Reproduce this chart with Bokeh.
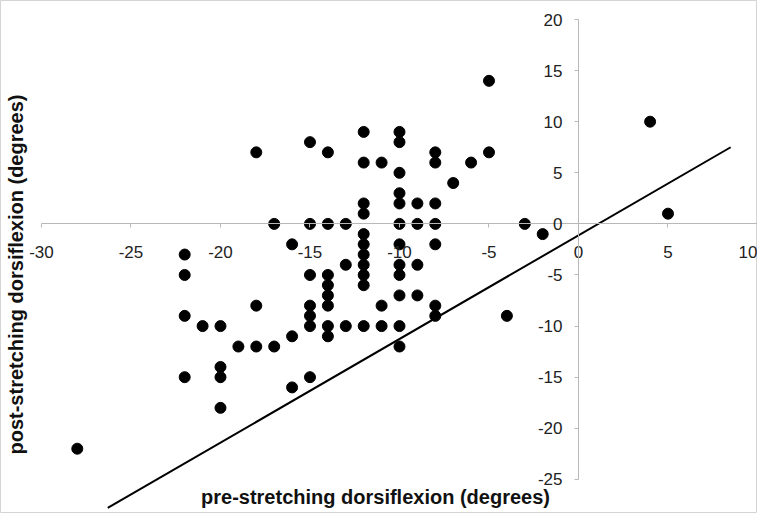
import math
from bokeh.plotting import figure
from bokeh.models import Range1d, LinearAxis, FixedTicker, Label, ColumnDataSource
from bokeh.embed import file_html
from bokeh.resources import INLINE

# pre-stretching dorsiflexion (degrees)
pre = [-28,
       -22, -22, -22, -22,
       -21,
       -20, -20, -20, -20,
       -19,
       -18, -18, -18,
       -17, -17,
       -16, -16, -16,
       -15, -15, -15, -15, -15, -15, -15,
       -14, -14, -14, -14, -14, -14, -14, -14,
       -13, -13, -13,
       -12, -12, -12, -12, -12, -12, -12, -12, -12, -12, -12,
       -11, -11, -11,
       -10, -10, -10, -10, -10, -10, -10, -10, -10, -10, -10, -10,
       -9, -9, -9, -9,
       -8, -8, -8, -8, -8, -8, -8,
       -7, -6, -5, -5, -4, -3, -2, 4, 5]
# post-stretching dorsiflexion (degrees)
post = [-22,
        -3, -5, -9, -15,
        -10,
        -10, -14, -15, -18,
        -12,
        7, -8, -12,
        0, -12,
        -2, -11, -16,
        8, 0, -5, -8, -9, -10, -15,
        7, 0, -5, -6, -7, -8, -10, -11,
        0, -4, -10,
        9, 6, 2, 1, -1, -2, -3, -4, -5, -6, -10,
        6, -8, -10,
        9, 8, 5, 3, 2, 0, -2, -4, -5, -7, -10, -12,
        2, 0, -4, -7,
        7, 6, 2, 0, -2, -8, -9,
        4, 6, 14, 7, -9, 0, -1, 10, 1]

# reference line (drawn in the original chart)
line_x = [-26.3, 8.5]
line_y = [-27.8, 7.5]

x_ticks = [-30, -25, -20, -15, -10, -5, 0, 5, 10]
y_ticks = [-25, -20, -15, -10, -5, 0, 5, 10, 15, 20]
x_tick_labels = ["-30", "-25", "-20", "-15", "-10", "-5", "0", "5", "10"]
y_tick_labels = ["-25", "-20", "-15", "-10", "-5", "0", "5", "10", "15", "20"]

W, H = 757, 513
p = figure(width=W, height=H, output_backend="svg", toolbar_location=None,
           x_range=Range1d(-32.29, 10.0), y_range=Range1d(-28.34, 21.86),
           x_axis_location=None, y_axis_location=None, min_border=0)
p.outline_line_color = "#d4d4d4"
p.background_fill_color = "white"
p.border_fill_color = "white"
p.xgrid.visible = False
p.ygrid.visible = False
p.grid.grid_line_color = None

axis_color = "#b8b8b8"
xaxis = LinearAxis(fixed_location=0, bounds=(-30, 10), ticker=FixedTicker(ticks=x_ticks),
                   major_label_overrides={t: s for t, s in zip(x_ticks, x_tick_labels)})
yaxis = LinearAxis(fixed_location=0, bounds=(-25, 20), ticker=FixedTicker(ticks=y_ticks),
                   major_label_overrides={t: s for t, s in zip(y_ticks, y_tick_labels)})
for ax in (xaxis, yaxis):
    ax.axis_line_color = axis_color
    ax.axis_line_width = 1
    ax.major_tick_line_color = axis_color
    ax.major_tick_out = 4
    ax.major_tick_in = 0
    ax.minor_tick_line_color = None
    ax.major_label_text_font = "Liberation Sans"
    ax.major_label_text_font_size = "17px"
    ax.major_label_text_color = "#222222"
xaxis.major_label_standoff = 18
yaxis.major_label_standoff = 12
p.add_layout(xaxis, "below")
p.add_layout(yaxis, "left")

p.line(line_x, line_y, line_color="black", line_width=2)
src = ColumnDataSource(dict(x=pre, y=post))
p.scatter("x", "y", source=src, size=11, fill_color="black", line_color="black")

xt = Label(x=375, y=6, x_units="screen", y_units="screen",
           text="pre-stretching dorsiflexion (degrees)", text_align="center",
           text_baseline="bottom", text_font="Liberation Sans", text_font_style="bold",
           text_font_size="20px", text_color="#111111")
yt = Label(x=15, y=239, x_units="screen", y_units="screen", angle=math.pi / 2,
           text="post-stretching dorsiflexion (degrees)", text_align="center",
           text_baseline="middle", text_font="Liberation Sans", text_font_style="bold",
           text_font_size="20px", text_color="#111111")
p.add_layout(xt)
p.add_layout(yt)

open("out.html", "w").write(file_html(p, INLINE))
